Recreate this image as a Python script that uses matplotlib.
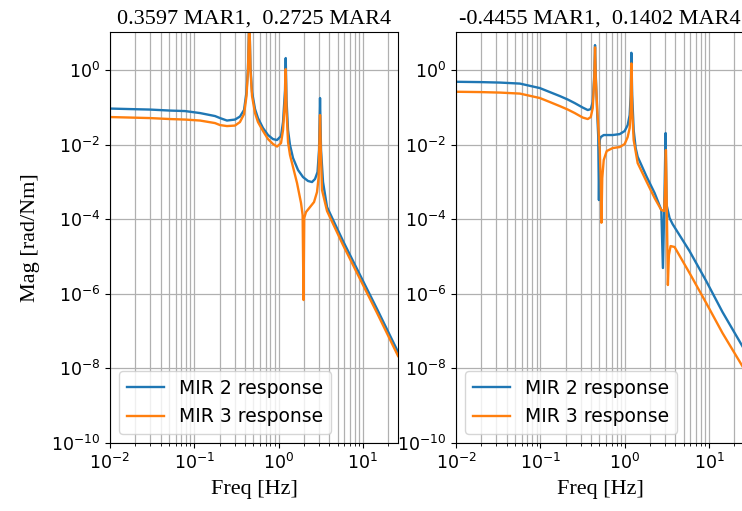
import matplotlib.pyplot as plt
import numpy as np
from matplotlib.ticker import NullLocator

# values (freq in Hz, magnitude in rad/Nm)
titles = ["0.3597 MAR1,  0.2725 MAR4", "-0.4455 MAR1,  0.1402 MAR4"]
labels = ["MIR 2 response", "MIR 3 response"]

left_mir2_f = [0.0100, 0.0173, 0.0298, 0.0515, 0.0776, 0.117, 0.176, 0.202, 0.244, 0.304,
               0.348, 0.389, 0.416, 0.4335, 0.449, 0.464, 0.484, 0.525, 0.569, 0.653,
               0.749, 0.858, 0.957, 1.068, 1.128, 1.191, 1.214, 1.241, 1.293, 1.365,
               1.482, 1.699, 1.947, 2.233, 2.490, 2.703, 2.893, 3.015, 3.098, 3.184,
               3.363, 3.751, 5.805, 9.239, 14.70, 26.09]
left_mir2_m = [0.0929, 0.0899, 0.0873, 0.0820, 0.0796, 0.0703, 0.0585, 0.0516, 0.0443, 0.0471,
               0.0567, 0.0851, 0.257, 1.13, 30.0, 1.13, 0.257, 0.0900, 0.0516, 0.0279,
               0.0181, 0.0141, 0.0133, 0.0170, 0.0404, 0.291, 2.10, 0.157, 0.0246, 0.00976,
               0.00438, 0.00209, 0.00135, 0.00106, 0.000994, 0.00120, 0.00184, 0.00716, 0.178, 0.00716,
               0.000994, 0.000212, 2.61e-5, 3.19e-6, 3.91e-7, 2.75e-8]

left_mir3_f = [0.0100, 0.0173, 0.0298, 0.0515, 0.0776, 0.117, 0.176, 0.202, 0.244, 0.304,
               0.348, 0.389, 0.416, 0.4335, 0.449, 0.464, 0.484, 0.525, 0.569, 0.653,
               0.749, 0.858, 0.957, 1.068, 1.128, 1.191, 1.214, 1.241, 1.293, 1.365,
               1.482, 1.653, 1.844, 1.926, 1.974, 2.012, 2.113, 2.358, 2.630, 2.854,
               2.974, 3.031, 3.098, 3.162, 3.272, 3.751, 5.805, 9.239, 14.70, 26.09]
left_mir3_m = [0.0550, 0.0533, 0.0516, 0.0486, 0.0471, 0.0443, 0.0379, 0.0335, 0.0315, 0.0325,
               0.0404, 0.0661, 0.201, 1.0, 30.0, 1.0, 0.201, 0.0703, 0.0404, 0.0232,
               0.0141, 0.0104, 0.00889, 0.0110, 0.0246, 0.157, 1.06, 0.0847, 0.0117, 0.00526,
               0.00251, 0.000935, 0.000272, 0.000130, 6.82e-7, 0.000108, 0.000156, 0.000212, 0.000289, 0.000536,
               0.00127, 0.00716, 0.0622, 0.00716, 0.000607, 0.000166, 2.03e-5, 2.49e-6, 3.06e-7, 2.15e-8]

right_mir2_f = [0.0100, 0.0192, 0.0332, 0.0572, 0.0986, 0.1295, 0.170, 0.2115, 0.256, 0.318,
                0.365, 0.396, 0.418, 0.436, 0.445, 0.454, 0.473, 0.486, 0.495, 0.506,
                0.520, 0.564, 0.721, 0.873, 1.000, 1.085, 1.146, 1.178, 1.200, 1.227,
                1.278, 1.350, 1.425, 1.821, 2.265, 2.719, 2.840, 2.935, 3.057, 3.141,
                3.406, 3.698, 5.877, 9.267, 14.45, 25.61]
right_mir2_m = [0.485, 0.476, 0.462, 0.434, 0.329, 0.257, 0.201, 0.162, 0.130, 0.0988,
                0.0847, 0.0900, 0.139, 0.734, 4.68, 0.734, 0.0622, 0.0160, 0.000327, 0.0133,
                0.0160, 0.0181, 0.0181, 0.0192, 0.0232, 0.0335, 0.0622, 0.214, 2.91, 0.214,
                0.0246, 0.00811, 0.00474, 0.00138, 0.000504, 0.000177, 4.92e-6, 0.000130, 0.0205, 0.000240,
                0.000108, 7.43e-5, 1.40e-5, 2.20e-6, 3.25e-7, 3.52e-8]

right_mir3_f = [0.0100, 0.0192, 0.0332, 0.0572, 0.0986, 0.1295, 0.170, 0.2115, 0.256, 0.318,
                0.365, 0.396, 0.418, 0.436, 0.445, 0.454, 0.473, 0.506, 0.520, 0.530,
                0.542, 0.564, 0.612, 0.721, 0.873, 1.000, 1.085, 1.146, 1.178, 1.200,
                1.227, 1.278, 1.425, 1.821, 2.265, 2.719, 2.935, 3.000, 3.082, 3.167,
                3.253, 3.344, 3.503, 3.905, 5.877, 9.267, 14.45, 25.61]
right_mir3_m = [0.262, 0.257, 0.249, 0.234, 0.178, 0.139, 0.108, 0.0873, 0.0703, 0.0533,
                0.0486, 0.0550, 0.0958, 0.611, 4.06, 0.611, 0.0847, 0.00716, 0.00112, 8.05e-5,
                0.00127, 0.00386, 0.00674, 0.00811, 0.00863, 0.0104, 0.0160, 0.0279, 0.0847, 1.51,
                0.0847, 0.0133, 0.00321, 0.00101, 0.000370, 0.000177, 0.000166, 0.000446, 0.00716, 0.000130,
                1.72e-6, 1.10e-5, 1.91e-5, 1.80e-5, 3.61e-6, 5.66e-7, 8.89e-8, 1.03e-8]

panels = [
    ((left_mir2_f, left_mir2_m), (left_mir3_f, left_mir3_m)),
    ((right_mir2_f, right_mir2_m), (right_mir3_f, right_mir3_m)),
]

serif = "Liberation Serif"
y_ticks = [1e-10, 1e-8, 1e-6, 1e-4, 1e-2, 1e0]

fig = plt.figure(figsize=(7.42, 5.11), dpi=100)
ax_left = fig.add_axes([0.1482, 0.1331, 0.3881, 0.8043])
ax_right = fig.add_axes([0.6146, 0.1331, 0.3881, 0.8043])

for ax, title, curves in zip([ax_left, ax_right], titles, panels):
    for (f, m), label in zip(curves, labels):
        ax.loglog(f, m, linewidth=1.7, label=label)

    ax.set_xlim(1e-2, 26)
    ax.set_ylim(1e-10, 10.5)
    ax.set_yticks(y_ticks)
    ax.yaxis.set_minor_locator(NullLocator())
    ax.grid(True, which="both", color="#b0b0b0", linewidth=0.9)
    ax.tick_params(labelsize=12.5)

    ax.set_title(title, fontname=serif, fontsize=16)
    ax.set_xlabel("Freq [Hz]", fontname=serif, fontsize=16, labelpad=5)
    ax.legend(loc="lower left", fontsize=13.5)

ax_left.set_ylabel("Mag [rad/Nm]", fontname=serif, fontsize=16, labelpad=8)

fig.savefig("out.png", dpi=100)
